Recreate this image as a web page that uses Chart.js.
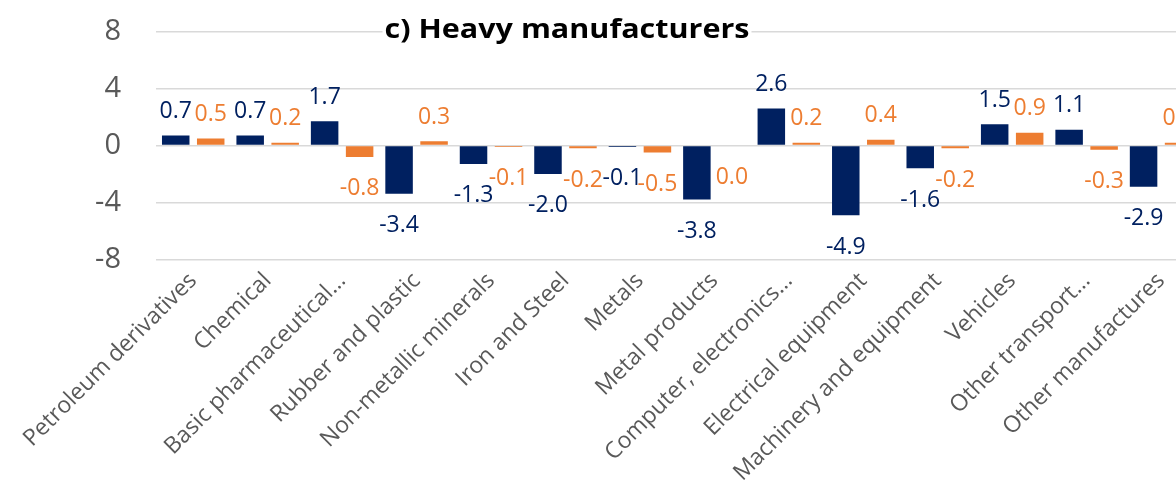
<!DOCTYPE html>
<html>
<head>
<meta charset="utf-8">
<script src="https://cdn.jsdelivr.net/npm/chart.js@4.4.1/dist/chart.umd.min.js"></script>
<style>
  html, body { margin: 0; padding: 0; background: #fff; overflow: hidden; }
  #wrap { width: 1220px; height: 496px; }
</style>
</head>
<body>
<div id="wrap"><canvas id="chart" width="1220" height="496"></canvas></div>
<script>
// Industries shown along the category axis
const categories = [
  'Petroleum derivatives', 'Chemical', 'Basic pharmaceutical\u2026', 'Rubber and plastic',
  'Non-metallic minerals', 'Iron and Steel', 'Metals', 'Metal products',
  'Computer, electronics\u2026', 'Electrical equipment', 'Machinery and equipment',
  'Vehicles', 'Other transport\u2026', 'Other manufactures'
];

// Navy series
const seriesNavy = [0.7, 0.7, 1.7, -3.4, -1.3, -2.0, -0.1, -3.8, 2.6, -4.9, -1.6, 1.5, 1.1, -2.9];
// Orange series
const seriesOrange = [0.5, 0.2, -0.8, 0.3, -0.1, -0.2, -0.5, 0.0, 0.2, 0.4, -0.2, 0.9, -0.3, 0.2];

// Value axis ticks
const yTicks = [-8, -4, 0, 4, 8];

const chartTitle = 'c) Heavy manufacturers';

const NAVY = '#002060';
const ORANGE = '#ED7D31';
const GREY_TEXT = '#595959';

// Value labels above positive bars and below negative / zero bars
const valueLabels = {
  id: 'valueLabels',
  afterDatasetsDraw(chart) {
    const ctx = chart.ctx;
    ctx.save();
    ctx.font = '23px "Open Sans"';
    ctx.textAlign = 'center';
    ctx.textBaseline = 'alphabetic';
    chart.data.datasets.forEach((ds, di) => {
      const meta = chart.getDatasetMeta(di);
      ctx.fillStyle = ds.labelColor;
      meta.data.forEach((bar, i) => {
        const v = ds.data[i];
        const top = Math.min(bar.y, bar.base);
        const bottom = Math.max(bar.y, bar.base);
        const y = v > 0 ? top - 17.5 : bottom + 38.5;
        ctx.fillText(v.toFixed(1), bar.x, y);
      });
    });
    ctx.restore();
  }
};

// Bold title on a white plate over the top gridline
const titlePlate = {
  id: 'titlePlate',
  afterDraw(chart) {
    const ctx = chart.ctx;
    const cx = 567, targetW = 365;
    ctx.save();
    ctx.font = 'bold 27px "Open Sans"';
    const w = ctx.measureText(chartTitle).width;
    ctx.fillStyle = '#fff';
    ctx.fillRect(cx - targetW / 2 - 2, 14, targetW + 4, 34);
    ctx.translate(cx, 0);
    ctx.scale(targetW / w, 1);
    ctx.fillStyle = '#000';
    ctx.textAlign = 'center';
    ctx.textBaseline = 'alphabetic';
    ctx.fillText(chartTitle, 0, 38);
    ctx.restore();
  }
};

new Chart(document.getElementById('chart'), {
  type: 'bar',
  data: {
    labels: categories,
    datasets: [
      { data: seriesNavy, backgroundColor: NAVY, labelColor: NAVY },
      { data: seriesOrange, backgroundColor: ORANGE, labelColor: ORANGE }
    ]
  },
  options: {
    responsive: false,
    animation: false,
    devicePixelRatio: 1,
    layout: { padding: { left: 0, right: 21.7, top: 31.7, bottom: 0 } },
    datasets: { bar: { categoryPercentage: 0.94, barPercentage: 0.786 } },
    plugins: { legend: { display: false }, tooltip: { enabled: false } },
    scales: {
      x: {
        grid: { display: false, drawTicks: false },
        border: { display: false },
        ticks: {
          autoSkip: false,
          minRotation: 45,
          maxRotation: 45,
          color: GREY_TEXT,
          padding: 8,
          labelOffset: 0,
          font: { family: 'Open Sans', size: 23 }
        },
        afterFit(scale) { scale.height = 236.7; }
      },
      y: {
        min: yTicks[0],
        max: yTicks[yTicks.length - 1],
        afterBuildTicks(scale) { scale.ticks = yTicks.map(v => ({ value: v })); },
        grid: { color: '#d9d9d9', lineWidth: 1.5, drawTicks: false },
        border: { display: false },
        ticks: {
          color: GREY_TEXT,
          padding: 35,
          font: { family: 'Open Sans', size: 29 }
        },
        afterFit(scale) {
          scale.width = 156;
          scale.paddingTop = 0;
          scale.paddingBottom = 0;
        }
      }
    }
  },
  plugins: [valueLabels, titlePlate]
});
</script>
</body>
</html>
